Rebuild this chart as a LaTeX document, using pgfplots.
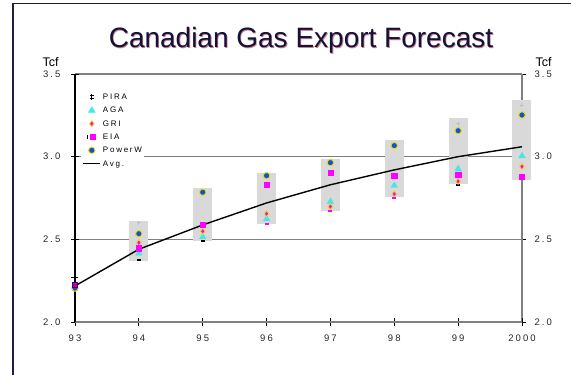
\documentclass[border=0pt]{standalone}
\usepackage{pgfplots}
\usepackage{pgfplotstable}
\pgfplotsset{compat=1.18}
\usepackage{fontspec}
\setmainfont{Liberation Sans}
\newfontfamily\tickfont[LetterSpace=22]{Liberation Sans}
\newfontfamily\legfont[LetterSpace=22]{Liberation Sans}

\definecolor{framenavy}{RGB}{30,30,70}
\definecolor{titlenavy}{RGB}{18,18,58}
\definecolor{titleshadow}{RGB}{200,130,140}
\definecolor{boxgray}{RGB}{217,217,217}
\definecolor{gridgray}{RGB}{128,128,128}
\definecolor{pwblue}{RGB}{16,80,220}
\definecolor{ringyellow}{RGB}{235,220,0}
\definecolor{agacyan}{RGB}{70,230,230}
\definecolor{eiamag}{RGB}{255,0,255}

% forecast range per year (low, high)
\pgfplotstableread{
x   lo     hi
94  2.370  2.610
95  2.490  2.810
96  2.595  2.900
97  2.673  2.986
98  2.754  3.100
99  2.833  3.232
100 2.859  3.343
}\rangetable

\pgfplotstableread{
x   y
93  2.218
94  2.440
95  2.587
96  2.720
97  2.830
98  2.920
99  3.000
100 3.060
}\avgtable

\pgfplotstableread{
x   y
94  2.373
95  2.490
99  2.830
}\piratable

\pgfplotstableread{
x   y
94  2.416
95  2.514
96  2.623
97  2.728
98  2.825
99  2.926
100 3.004
}\agatable

\pgfplotstableread{
x   y
94  2.480
95  2.549
96  2.655
97  2.698
98  2.774
99  2.851
100 2.940
}\gritable

\pgfplotstableread{
x   y
94  2.446
95  2.590
96  2.830
97  2.905
98  2.885
99  2.891
100 2.879
}\eiatable

\pgfplotstableread{
x   y
93  2.205
94  2.534
95  2.785
96  2.885
97  2.964
98  3.067
99  3.157
100 3.252
}\powertable

\begin{document}
\begin{tikzpicture}
\useasboundingbox (-75pt,-53pt) rectangle (496pt,322pt);
\draw[framenavy, line width=1.3pt] (-62pt,-60pt) -- (-62pt,318.5pt) -- (500pt,318.5pt);

\node[anchor=base, font=\fontsize{28}{30}\selectfont, text=titleshadow] at (226.8pt,273.2pt) {Canadian Gas Export Forecast};
\node[anchor=base, font=\fontsize{28}{30}\selectfont, text=titlenavy] at (226pt,274pt) {Canadian Gas Export Forecast};
\node[anchor=base, font=\fontsize{12.5}{13}\selectfont] at (-24.5pt,255pt) {Tcf};
\node[anchor=base, font=\fontsize{12.5}{13}\selectfont] at (468.5pt,255pt) {Tcf};

% right-hand scale, drawn first so the boxes sit over its axis line
\begin{axis}[
  at={(0pt,0pt)}, anchor=south west,
  scale only axis, width=447pt, height=248pt,
  xmin=93, xmax=100, ymin=2, ymax=3.5,
  axis x line=none, axis y line*=right,
  y axis line style={gridgray, line width=1.3pt},
  ytick={2,2.5,3,3.5}, yticklabels={2.0,2.5,3.0,3.5},
  ticklabel style={font=\tickfont\fontsize{9.5}{10}\selectfont, text=black!85},
  yticklabel style={xshift=5pt},
  tick align=center, major tick length=8pt,
  tick style={black, line width=0.8pt},
]
\addplot[draw=none, forget plot] coordinates {(93,2) (100,3.5)};
\end{axis}

\begin{axis}[
  at={(0pt,0pt)}, anchor=south west,
  scale only axis, width=447pt, height=248pt,
  xmin=93, xmax=100, ymin=2, ymax=3.5,
  axis x line*=bottom, axis y line*=left,
  x axis line style={gridgray, line width=1.3pt},
  y axis line style={black, line width=1.3pt},
  xtick={93,...,100}, xticklabels={93,94,95,96,97,98,99,2000},
  ytick={2,2.5,3,3.5}, yticklabels={2.0,2.5,3.0,3.5},
  ticklabel style={font=\tickfont\fontsize{9.5}{10}\selectfont, text=black!85},
  xticklabel style={yshift=-5pt},
  yticklabel style={xshift=-7pt},
  tick align=center, major tick length=8pt,
  tick style={black, line width=0.8pt},
  ymajorgrids, major grid style={gridgray, line width=1.3pt},
  clip=false,
  legend style={at={(rel axis cs:0.012,0.935)}, anchor=north west,
    draw=none, fill=white, inner xsep=2pt, inner ysep=3pt,
    font=\legfont\fontsize{8}{9}\selectfont, row sep=6.3pt, column sep=2pt,
    nodes={inner sep=0pt, text height=6pt, text depth=1pt}},
  legend cell align=left,
]
% range boxes
\addplot[forget plot, draw=none, mark=none,
  error bars/.cd, y dir=both, y explicit, error mark=none,
  error bar style={draw=boxgray, line width=19pt}]
  table[x=x, y expr={(\thisrow{lo}+\thisrow{hi})/2}, y error expr={(\thisrow{hi}-\thisrow{lo})/2}] {\rangetable};
% average
\addplot[forget plot, black, line width=1.4pt, mark=none] table {\avgtable};
% individual forecasts
\addplot[only marks, mark=-, mark size=2pt, mark options={black, line width=2pt},
  legend image code/.code={\draw[black,line width=0.8pt] (8.5pt,-3pt)--(8.5pt,3pt);
    \draw[black,line width=0.8pt] (6.5pt,1.2pt)--(10.5pt,1.2pt) (6.5pt,-1.2pt)--(10.5pt,-1.2pt);}]
  table {\piratable};
\addlegendentry{PIRA}
\addplot[only marks, mark=triangle*, mark size=3.8pt, mark options={fill=agacyan, draw=agacyan}] table {\agatable};
\addlegendentry{AGA}
\addplot[only marks, mark=diamond*, mark size=3pt, mark options={fill=eiamag, draw=ringyellow, line width=0.8pt}] table {\gritable};
\addlegendentry{GRI}
\addplot[only marks, mark=square*, mark size=2.6pt, mark options={fill=eiamag, draw=eiamag},
  legend image code/.code={\draw[black,line width=0.7pt] (4pt,-2pt)--(4pt,2pt);
    \draw[eiamag, fill=eiamag] (7pt,-2.6pt) rectangle (12.2pt,2.6pt);}]
  table {\eiatable};
\addlegendentry{EIA}
\addplot[only marks, mark=*, mark size=3.2pt, mark options={fill=pwblue, draw=ringyellow, line width=0.9pt}] table {\powertable};
\addlegendentry{PowerW}
\addlegendimage{legend image code/.code={\draw[black, line width=1.4pt] (0pt,0pt)--(17pt,0pt);}}
\addlegendentry{Avg.}
% low marks drawn in magenta
\addplot[forget plot, only marks, mark=-, mark size=2pt, mark options={eiamag, line width=2pt}]
  coordinates {(96,2.590) (97,2.670) (98,2.752)};
% 1993 starting points
\addplot[forget plot, only marks, mark=+, mark size=3.5pt, mark options={black, line width=0.8pt}]
  coordinates {(93,2.268)};
\addplot[forget plot, only marks, mark=square*, mark size=2.6pt, mark options={fill=red, draw=blue, line width=0.7pt}]
  coordinates {(93,2.224)};
% upper marks
\addplot[forget plot, only marks, mark=+, mark size=2pt, mark options={black!25, line width=1pt}]
  coordinates {(94,2.600) (99,3.200) (100,3.310)};
\end{axis}
\end{tikzpicture}
\end{document}
